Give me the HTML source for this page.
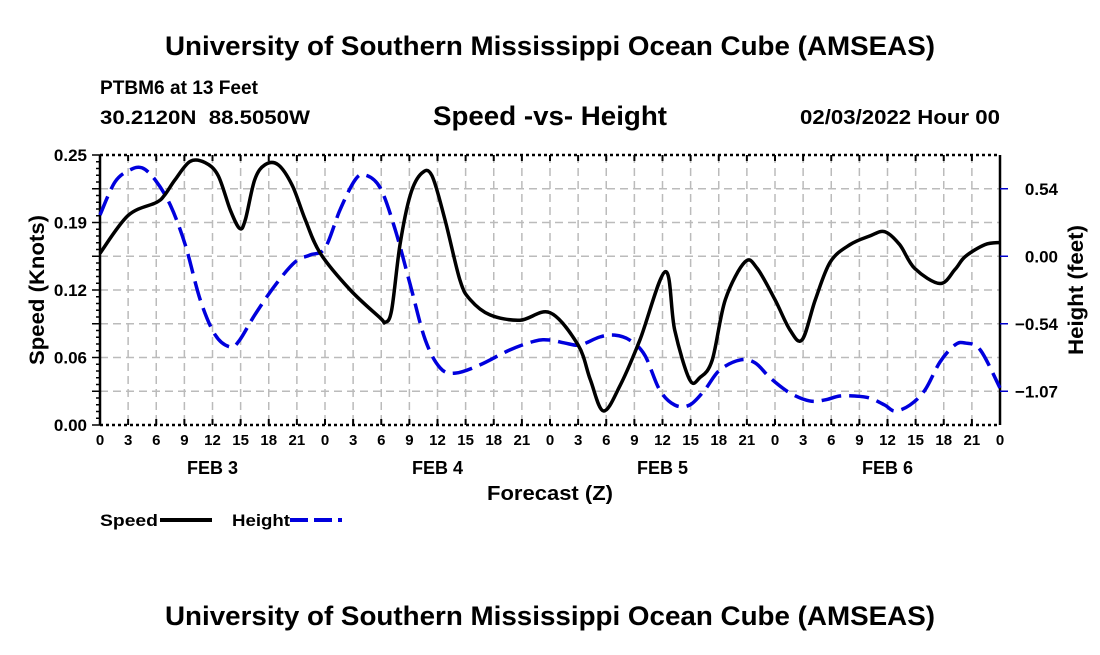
<!DOCTYPE html>
<html><head><meta charset="utf-8"><style>
body{margin:0;background:#fff;}
svg text{font-family:"Liberation Sans",Arial,sans-serif;font-weight:bold;fill:#000;}
</style></head><body>
<svg id="chart" width="1100" height="650" viewBox="0 0 1100 650" xmlns="http://www.w3.org/2000/svg">
<text x="550" y="55" font-size="27" text-anchor="middle" textLength="770" lengthAdjust="spacingAndGlyphs">University of Southern Mississippi Ocean Cube (AMSEAS)</text>
<text x="100" y="94" font-size="19" textLength="158" lengthAdjust="spacingAndGlyphs">PTBM6 at 13 Feet</text>
<text x="100" y="124" font-size="19" textLength="210" lengthAdjust="spacingAndGlyphs">30.2120N&#160;&#160;88.5050W</text>
<text x="550" y="125" font-size="27" text-anchor="middle" textLength="234" lengthAdjust="spacingAndGlyphs">Speed -vs- Height</text>
<text x="1000" y="124" font-size="20" text-anchor="end" textLength="200" lengthAdjust="spacingAndGlyphs">02/03/2022 Hour 00</text>
<g id="grid"></g>
<g id="axes"></g>
<g id="series"></g>
<text transform="translate(44,290) rotate(-90)" font-size="21" text-anchor="middle" textLength="150" lengthAdjust="spacingAndGlyphs">Speed (Knots)</text>
<text transform="translate(1083,290) rotate(-90)" font-size="21" text-anchor="middle" textLength="130" lengthAdjust="spacingAndGlyphs">Height (feet)</text>
<text x="550" y="500" font-size="20" text-anchor="middle" textLength="126" lengthAdjust="spacingAndGlyphs">Forecast (Z)</text>
<g>
<text x="100" y="526" font-size="17" textLength="58" lengthAdjust="spacingAndGlyphs">Speed</text>
<line x1="160" y1="520" x2="212" y2="520" stroke="#000" stroke-width="4"/>
<text x="232" y="526" font-size="17" textLength="58" lengthAdjust="spacingAndGlyphs">Height</text>
<line x1="290" y1="520" x2="342" y2="520" stroke="#0000dd" stroke-width="4" stroke-dasharray="18,6"/>
</g>
<text x="550" y="625" font-size="27" text-anchor="middle" textLength="770" lengthAdjust="spacingAndGlyphs">University of Southern Mississippi Ocean Cube (AMSEAS)</text>
</svg>
<script>
const speedHours=[0,3,6,6.9,8,9.6,11.2,12.6,13.9,14.9,15.5,16.5,17.6,19,20.5,21.9,23.5,26.7,29.9,30.4,31.1,32,33.1,34.3,35.4,36.8,38.4,39.5,41.6,44.8,48,51,52.3,53.7,55.5,57.6,60.3,61.3,62.9,64,65.3,66.7,68.8,70.1,72,73.6,74.9,76.3,77.9,80,82.1,83.7,85.3,86.9,89.6,91.2,92.3,94.4,96];
const speedValues=[0.159,0.194,0.206,0.213,0.227,0.244,0.243,0.231,0.199,0.182,0.190,0.227,0.241,0.241,0.222,0.190,0.159,0.125,0.099,0.095,0.106,0.167,0.213,0.233,0.231,0.190,0.134,0.116,0.102,0.097,0.104,0.074,0.042,0.013,0.037,0.079,0.142,0.088,0.042,0.044,0.060,0.116,0.151,0.145,0.116,0.088,0.079,0.116,0.151,0.167,0.175,0.179,0.167,0.145,0.131,0.144,0.156,0.167,0.169];
const heightHours=[0,1.6,3.2,4.5,5.9,7.5,9.1,10.7,12.3,13.9,14.9,16.5,18.7,20.8,22.4,24,25.6,27.2,28.3,29.9,31.5,33.1,34.7,36.3,37.9,40.5,43.7,46.4,48,49.6,51.2,53.3,54.9,56.5,58.1,59.7,61.3,62.9,64.5,66.1,68.3,69.9,71.5,73.6,75.7,77.3,78.9,80.5,82.1,83.7,84.8,86.4,88,89.6,91.2,92.3,93.9,96];
const heightValues=[0.327,0.589,0.684,0.700,0.604,0.406,0.089,-0.347,-0.625,-0.719,-0.664,-0.466,-0.228,-0.046,0.010,0.065,0.367,0.604,0.644,0.541,0.208,-0.228,-0.664,-0.886,-0.926,-0.862,-0.743,-0.672,-0.664,-0.688,-0.703,-0.640,-0.625,-0.664,-0.783,-1.060,-1.179,-1.179,-1.060,-0.902,-0.822,-0.846,-0.965,-1.084,-1.147,-1.139,-1.108,-1.108,-1.124,-1.179,-1.227,-1.179,-1.060,-0.838,-0.703,-0.688,-0.743,-1.044];
const xTickLabels=["0","3","6","9","12","15","18","21"];
const dayLabels=["FEB 3","FEB 4","FEB 5","FEB 6"];
const leftTicks=[0,0.0625,0.125,0.1875,0.25];
const leftTickLabels=["0.00","0.06","0.12","0.19","0.25"];
const rightTicks=[0.535,0,-0.535,-1.07];
const rightTickLabels=["0.54","0.00","\u22120.54","\u22121.07"];

const L=100,R=1000,T=155,B=425;
const x=h=>L+h/96*(R-L);
const yS=v=>B-v/0.25*(B-T);
const yH=v=>256.25-v/0.2675*33.75;
const NS="http://www.w3.org/2000/svg";
function mk(parent,tag,attrs){const e=document.createElementNS(NS,tag);for(const k in attrs)e.setAttribute(k,attrs[k]);parent.appendChild(e);return e;}
const grid=document.getElementById('grid'),axes=document.getElementById('axes'),series=document.getElementById('series');
for(let i=1;i<32;i++){const l=mk(grid,'line',{x1:x(i*3),x2:x(i*3),y1:T,y2:B,stroke:'#bbb','stroke-width':1.5,'stroke-dasharray':'8,5'});

}
for(let i=1;i<8;i++){const yy=T+i*(B-T)/8;const l=mk(grid,'line',{x1:L,x2:R,y1:yy,y2:yy,stroke:'#bbb','stroke-width':1.5,'stroke-dasharray':'8,5'});

}
mk(axes,'line',{x1:L,x2:L,y1:T,y2:B,stroke:'#000','stroke-width':2.5});
mk(axes,'line',{x1:R,x2:R,y1:T,y2:B,stroke:'#000','stroke-width':2.5});
mk(axes,'line',{x1:L,x2:R,y1:B,y2:B,stroke:'#000','stroke-width':2.5,'stroke-dasharray':'3,3'});
mk(axes,'line',{x1:L,x2:R,y1:T,y2:T,stroke:'#000','stroke-width':2.5,'stroke-dasharray':'3,3'});
for(let i=0;i<=32;i++){
 mk(axes,'line',{x1:x(i*3),x2:x(i*3),y1:B,y2:B-6,stroke:'#000','stroke-width':2});
 mk(axes,'line',{x1:x(i*3),x2:x(i*3),y1:T,y2:T+6,stroke:'#000','stroke-width':2});
 const t=mk(axes,'text',{x:x(i*3),y:B+20,'font-size':15,'text-anchor':'middle'});t.textContent=xTickLabels[i%8];
 
 
}
dayLabels.forEach((d,i)=>{const t=mk(axes,'text',{x:x(12+i*24),y:B+49,'font-size':18,'text-anchor':'middle'});t.textContent=d;
 
 });
for(let i=0;i<=40;i++){const yy=T+i*(B-T)/40;mk(axes,'line',{x1:L,x2:L-(i%5==0?8:4),y1:yy,y2:yy,stroke:'#000','stroke-width':1.5});}
leftTicks.forEach((v,i)=>{const t=mk(axes,'text',{x:L-13,y:yS(v)+6,'font-size':17,'text-anchor':'end'});t.textContent=leftTickLabels[i];
 
 });
rightTicks.forEach((v,i)=>{mk(axes,'line',{x1:R,x2:R+8,y1:yH(v),y2:yH(v),stroke:'#0000cc','stroke-width':1.5});
 const t=mk(axes,'text',{x:R+58,y:yH(v)+6,'font-size':17,'text-anchor':'end'});t.textContent=rightTickLabels[i];
 
 });
function smooth(pts){let d=`M${pts[0][0]},${pts[0][1]}`;for(let i=0;i<pts.length-1;i++){const p0=pts[Math.max(0,i-1)],p1=pts[i],p2=pts[i+1],p3=pts[Math.min(pts.length-1,i+2)];
 d+=` C${p1[0]+(p2[0]-p0[0])/6},${p1[1]+(p2[1]-p0[1])/6} ${p2[0]-(p3[0]-p1[0])/6},${p2[1]-(p3[1]-p1[1])/6} ${p2[0]},${p2[1]}`;}return d;}
const hp=mk(series,'path',{d:smooth(heightHours.map((h,i)=>[x(h),yH(heightValues[i])])),fill:'none',stroke:'#0000dd','stroke-width':3.5,'stroke-dasharray':'20,8'});


const sp=mk(series,'path',{d:smooth(speedHours.map((h,i)=>[x(h),yS(speedValues[i])])),fill:'none',stroke:'#000','stroke-width':3.5});


</script>
</body></html>
